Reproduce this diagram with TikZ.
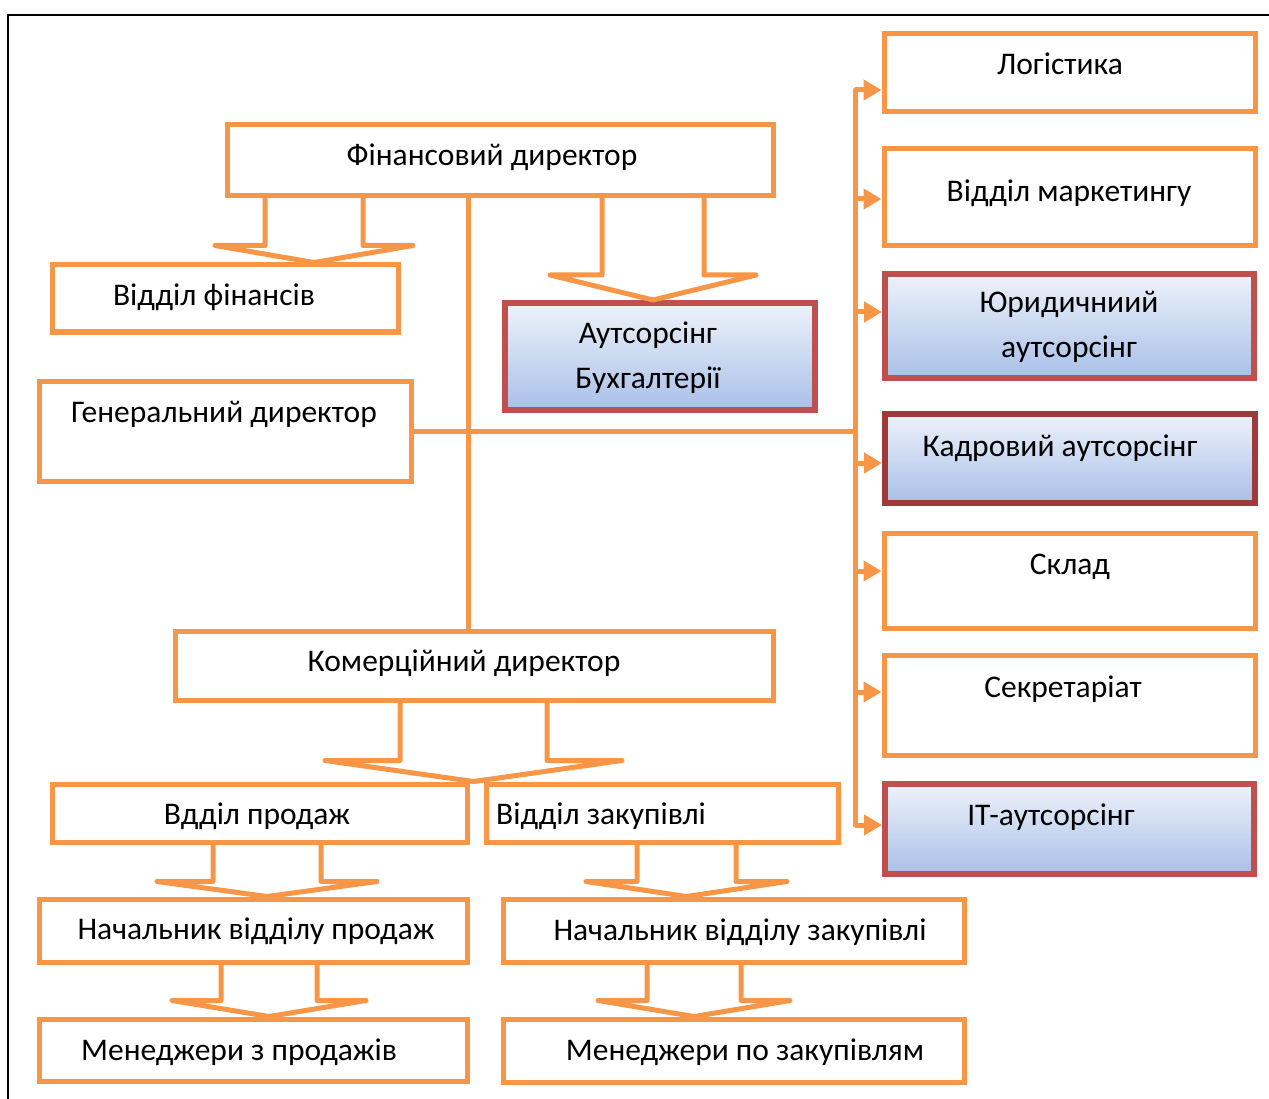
\documentclass[tikz,border=0pt]{standalone}
\usepackage{fontspec}
\setmainfont{Carlito}
\usetikzlibrary{arrows.meta,calc}

\definecolor{orgline}{HTML}{F79646}
\definecolor{redline}{HTML}{C0504D}
\definecolor{darkred}{HTML}{9E3A39}
\definecolor{bluetop}{HTML}{EEF2FA}
\definecolor{bluebot}{HTML}{A8C0E8}

\tikzset{
  box/.style={draw=orgline, line width=5pt, rectangle, inner sep=0pt, fill=white},
  redbox/.style={draw=redline, line width=6pt, rectangle, inner sep=0pt, top color=bluetop, bottom color=bluebot},
  txt/.style={font=\fontsize{31.5}{45}\selectfont, inner sep=0pt, text height=21pt, text depth=7pt},
  twotxt/.style={font=\fontsize{31.5}{45}\selectfont, inner sep=0pt, align=center},
  conn/.style={draw=orgline, line width=5pt, line join=round, line cap=round},
  busarr/.style={draw=orgline, line width=5pt, -{Triangle[length=18pt,width=20pt]}},
}

% block arrow: top node, bottom node, left stem, right stem, head depth, wing
\newcommand{\blockarr}[6]{%
  \draw[conn] let \p1=(#1.south), \p2=(#2.north) in
    (#3,\y1) -- (#3,\y2+#5) -- (#3-#6,\y2+#5) -- ({(#3+#4)/2},\y2)
    -- (#4+#6,\y2+#5) -- (#4,\y2+#5) -- (#4,\y1);}

\begin{document}
\begin{tikzpicture}[x=1pt,y=1pt]
  \useasboundingbox (0,0) rectangle (1269,-1099);
  \draw[line width=1.5pt] (8,-1099) -- (8,-15) -- (1269,-15);

  % left part
  \node[box, minimum width=546pt, minimum height=71pt] (fin) at (500,-160.5) {};
  \node[txt] (fintxt) at (492,-159) {Фінансовий директор};
  \node[box, minimum width=346pt, minimum height=67pt] (finv) at (225,-298.5) {};
  \node[txt] (finvtxt) at (214,-299) {Відділ фінансів};
  \node[redbox, minimum width=310pt, minimum height=107pt] (buh) at (660,-356.5) {};
  \node[twotxt] (buhtxt) at (648,-358) {Аутсорсінг\\Бухгалтерії};
  \node[box, minimum width=372pt, minimum height=100pt] (gen) at (225,-431) {};
  \node[txt] (gentxt) at (224,-415) {Генеральний директор};
  \node[box, minimum width=598pt, minimum height=69pt] (kom) at (474,-665.5) {};
  \node[txt] (komtxt) at (464,-664) {Комерційний директор};
  \node[box, minimum width=415pt, minimum height=58pt] (prod) at (259.5,-813) {};
  \node[txt] (prodtxt) at (257,-817) {Вдділ продаж};
  \node[box, minimum width=352pt, minimum height=58pt] (zak) at (662,-813) {};
  \node[txt, anchor=west] (zaktxt) at (496,-817) {Відділ закупівлі};
  \node[box, minimum width=428pt, minimum height=63pt] (nprod) at (253,-930.5) {};
  \node[txt] (nprodtxt) at (256,-932) {Начальник відділу продаж};
  \node[box, minimum width=461pt, minimum height=63pt] (nzak) at (733.5,-930.5) {};
  \node[txt] (nzaktxt) at (740,-933) {Начальник відділу закупівлі};
  \node[box, minimum width=428pt, minimum height=62pt] (mprod) at (253,-1050) {};
  \node[txt] (mprodtxt) at (239,-1053) {Менеджери з продажів};
  \node[box, minimum width=461pt, minimum height=63pt] (mzak) at (733.5,-1050.5) {};
  \node[txt] (mzaktxt) at (745,-1053) {Менеджери по закупівлям};

  % right column
  \node[box, minimum width=371pt, minimum height=78pt] (log) at (1069.5,-73) {};
  \node[txt] (logtxt) at (1060,-68) {Логістика};
  \node[box, minimum width=371pt, minimum height=97pt] (mark) at (1069.5,-197.5) {};
  \node[txt] (marktxt) at (1069,-195) {Відділ маркетингу};
  \node[redbox, minimum width=369pt, minimum height=104pt] (jur) at (1069.5,-326) {};
  \node[twotxt] (jurtxt) at (1069,-327) {Юридичниий\\аутсорсінг};
  \node[redbox, draw=darkred, minimum width=370pt, minimum height=89pt] (kadr) at (1070,-458.5) {};
  \node[txt] (kadrtxt) at (1060,-449) {Кадровий аутсорсінг};
  \node[box, minimum width=371pt, minimum height=95pt] (sklad) at (1069.5,-580.5) {};
  \node[txt] (skladtxt) at (1070,-567) {Склад};
  \node[box, minimum width=371pt, minimum height=100pt] (sekr) at (1069.5,-705) {};
  \node[txt] (sekrtxt) at (1063,-690) {Секретаріат};
  \node[redbox, minimum width=369pt, minimum height=90pt] (it) at (1069.5,-829) {};
  \node[txt] (ittxt) at (1051,-818) {ІТ-аутсорсінг};

  % bus to the right column
  \coordinate (bus1) at (855,-90);
  \coordinate (bus2) at (855,-199);
  \coordinate (bus3) at (855,-312);
  \coordinate (bus4) at (855,-463);
  \coordinate (bus5) at (855,-571);
  \coordinate (bus6) at (855,-692);
  \coordinate (bus7) at (855,-825);
  \coordinate (trunk) at (468,0);
  \draw[conn] (bus1) -- (bus7);
  \draw[conn] (gen.east) -- (gen.east -| bus1);
  \draw[conn] (trunk |- fin.south) -- (trunk |- kom.north);
  \draw[busarr] (bus1) -- (bus1 -| log.west);
  \draw[busarr] (bus2) -- (bus2 -| mark.west);
  \draw[busarr] (bus3) -- (bus3 -| jur.west);
  \draw[busarr] (bus4) -- (bus4 -| kadr.west);
  \draw[busarr] (bus5) -- (bus5 -| sklad.west);
  \draw[busarr] (bus6) -- (bus6 -| sekr.west);
  \draw[busarr] (bus7) -- (bus7 -| it.west);

  % block arrows
  \blockarr{fin}{finv}{265}{363}{17}{50}
  \blockarr{fin}{buh}{602}{704}{25}{52}
  \blockarr{kom}{prod}{400}{547}{21}{75}
  \blockarr{prod}{nprod}{213}{321}{15}{56}
  \blockarr{zak}{nzak}{637}{736}{15}{51}
  \blockarr{nprod}{mprod}{221}{317}{16}{49}
  \blockarr{nzak}{mzak}{647}{741}{16}{49}
\end{tikzpicture}
\end{document}
